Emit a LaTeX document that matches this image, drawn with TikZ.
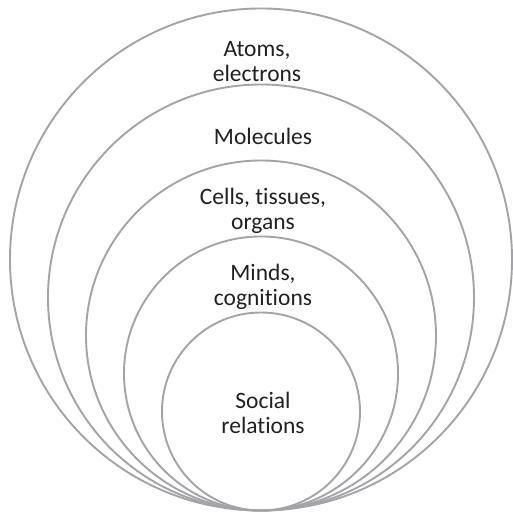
\documentclass[tikz,border=0pt]{standalone}
\usepackage{fontspec}
\setmainfont[RawFeature=-liga]{Carlito}
\usepackage{xcolor}
\usepackage{tikz}
\usetikzlibrary{calc}

\definecolor{ringgray}{RGB}{163,163,168}
\definecolor{labeltext}{RGB}{35,31,32}

\begin{document}
\begin{tikzpicture}[x=1pt, y=1pt,
    ring/.style={draw=ringgray, line width=1.9pt},
    levellabel/.style={align=center, text=labeltext, font=\fontsize{23.5}{25}\selectfont}]
    \useasboundingbox (0,0) rectangle (513,513);

    % Các vòng tròn tiếp xúc nhau tại đáy
    \coordinate (base) at (261,2.5);
    \foreach \r in {251,213,175,137,99}
        \draw[ring] ($(base)+(0,\r)$) circle (\r);

    % Nhãn của từng mức
    \node[levellabel] (atoms) at (257,451) {Atoms,\\electrons};
    \node[levellabel] (molecules) at (263,377) {Molecules};
    \node[levellabel] (cells) at (263,302) {Cells, tissues,\\organs};
    \node[levellabel] (minds) at (263,226) {Minds,\\cognitions};
    \node[levellabel] (social) at (263,100) {Social\\relations};
\end{tikzpicture}
\end{document}
